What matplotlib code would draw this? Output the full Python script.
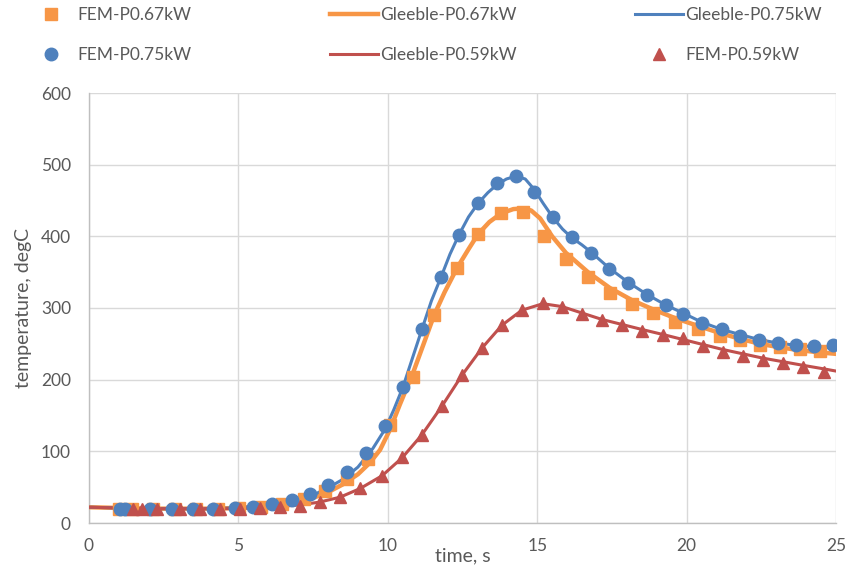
import numpy as np
import matplotlib
matplotlib.use('Agg')
import matplotlib.pyplot as plt
from matplotlib.pyplot import MultipleLocator

plt.rcParams['font.family'] = ['Lato', 'DejaVu Sans']

# FEM results (markers)
t_fem67 = [1.0, 1.45, 2.15, 2.87, 3.59, 4.31, 5.03, 5.75, 6.47, 7.19, 7.91, 8.63, 9.35,
           10.07, 10.84, 11.55, 12.32, 13.02, 13.79, 14.52, 15.23, 15.96, 16.70, 17.43,
           18.17, 18.88, 19.61, 20.38, 21.12, 21.79, 22.46, 23.13, 23.80, 24.46]
T_fem67 = [20, 20, 20, 20, 20, 20, 21, 23, 27, 33, 44, 62, 90,
           137, 204, 290, 356, 403, 433, 434, 400, 368, 343, 321,
           306, 293, 280, 271, 261, 255, 248, 246, 243, 240]

t_fem75 = [1.04, 1.2, 2.04, 2.78, 3.48, 4.15, 4.89, 5.49, 6.12, 6.79, 7.40, 8.00, 8.63, 9.27,
           9.91, 10.51, 11.14, 11.78, 12.38, 13.02, 13.65, 14.29, 14.89, 15.53, 16.16,
           16.80, 17.40, 18.04, 18.67, 19.31, 19.88, 20.52, 21.18, 21.79, 22.42, 23.06,
           23.66, 24.26, 24.90]
T_fem75 = [20, 20, 20, 20, 20, 20, 21, 22, 26, 32, 40, 53, 71, 98,
           135, 190, 271, 343, 402, 446, 474, 484, 462, 427, 399,
           377, 354, 335, 318, 304, 292, 279, 271, 261, 255, 251,
           248, 247, 248]

t_fem59 = [1.47, 1.77, 2.28, 3.05, 3.71, 4.38, 5.05, 5.72, 6.39, 7.06, 7.73, 8.40, 9.07,
           9.81, 10.48, 11.14, 11.81, 12.48, 13.15, 13.82, 14.49, 15.19, 15.83, 16.50,
           17.17, 17.84, 18.51, 19.21, 19.88, 20.55, 21.22, 21.89, 22.56, 23.23, 23.90, 24.60]
T_fem59 = [19, 19, 19, 19, 19, 19, 19, 21, 22, 24, 29, 36, 49,
           66, 92, 123, 163, 206, 244, 276, 297, 307, 301, 292,
           283, 276, 268, 262, 258, 247, 239, 233, 227, 223, 218, 211]

# Gleeble measurements (lines)
t_gl75 = [0, 1, 2, 3, 4, 5, 6, 7, 7.5, 8, 8.5, 9, 9.5, 9.91, 10.2, 10.51, 10.84, 11.14,
          11.46, 11.78, 12.08, 12.38, 12.7, 13.02, 13.35, 13.65, 13.97, 14.29, 14.6, 14.89,
          15.2, 15.53, 15.85, 16.16, 16.5, 16.8, 17.4, 18.04, 18.67, 19.31, 19.88, 20.52,
          21.18, 21.79, 22.42, 23.06, 23.66, 24.26, 25]
T_gl75 = [22, 21, 20, 20, 20, 21, 25, 32, 39, 49, 61, 78, 104, 131, 158, 190, 232, 270,
          310, 343, 375, 402, 427, 446, 461, 472, 480, 484, 480, 466,
          446, 426, 410, 398, 388, 378, 356, 336, 319, 304, 293, 280,
          270, 263, 256, 251, 248, 246, 244]

t_gl67 = [0, 1, 2, 3, 4, 5, 6, 7, 7.5, 8, 8.5, 9, 9.4, 9.74, 10.07, 10.4, 10.84, 11.2,
          11.55, 11.9, 12.32, 12.7, 13.02, 13.4, 13.79, 14.2, 14.52, 14.8, 15.1, 15.5,
          15.96, 16.7, 17.43, 18.17, 18.88, 19.61, 20.38, 21.12, 21.79, 22.46, 23.13, 23.8,
          24.46, 25]
T_gl67 = [22, 21, 20, 20, 20, 21, 24, 29, 35, 43, 54, 68, 84, 102, 130, 165, 209, 250,
          290, 322, 356, 382, 403, 420, 432, 438, 439, 436, 425, 400,
          377, 350, 328, 311, 298, 286, 275, 265, 257, 250, 245, 241,
          238, 236]

t_gl59 = [0, 2, 4, 5, 6, 7, 7.7, 8.4, 9.07, 9.81, 10.48, 11.14, 11.81, 12.48, 13.15, 13.82,
          14.49, 15.19, 15.83, 16.5, 17.17, 17.84, 18.51, 19.21, 19.88, 20.55, 21.22, 21.89,
          22.56, 23.23, 23.9, 24.6, 25]
T_gl59 = [22, 20, 20, 20, 22, 25, 29, 36, 48, 66, 91, 123, 163, 206, 244, 276,
          297, 306, 302, 293, 284, 277, 270, 263, 256, 249, 242, 236,
          230, 225, 220, 215, 212]

blue = '#4f81bd'
orange = '#f79646'
red = '#c0504d'
txt = '#595959'

fig = plt.figure(figsize=(8.56, 5.67), dpi=100)
ax = fig.add_axes([89/856, 44/567, 747/856, 430/567])

l_or, = ax.plot(t_gl67, T_gl67, color=orange, lw=3.2, label='Gleeble-P0.67kW', zorder=3)
l_bl, = ax.plot(t_gl75, T_gl75, color=blue, lw=2.2, label='Gleeble-P0.75kW', zorder=3)
l_rd, = ax.plot(t_gl59, T_gl59, color=red, lw=2.2, label='Gleeble-P0.59kW', zorder=3)
m_sq, = ax.plot(t_fem67, T_fem67, 's', color=orange, ms=8.5, label='FEM-P0.67kW', zorder=4)
m_ci, = ax.plot(t_fem75, T_fem75, 'o', color=blue, ms=9, label='FEM-P0.75kW', zorder=5)
m_tr, = ax.plot(t_fem59, T_fem59, '^', color=red, ms=9, label='FEM-P0.59kW', zorder=6)

ax.axis([0, 25, 0, 600])
ax.xaxis.set_major_locator(MultipleLocator(5))
ax.yaxis.set_major_locator(MultipleLocator(100))
ax.grid(True, color='#d9d9d9', lw=1.0)
ax.set_axisbelow(True)
for s in ['top', 'right']:
    ax.spines[s].set_visible(False)
for s in ['left', 'bottom']:
    ax.spines[s].set_color('#bfbfbf')
    ax.spines[s].set_linewidth(1.0)
ax.tick_params(length=0, labelsize=12.5, labelcolor=txt)
ax.tick_params(axis='y', pad=13)
ax.tick_params(axis='x', pad=11)

ax.set_xlabel('time, s', fontsize=14, color=txt)
ax.xaxis.set_label_coords(0.5, -0.057)
ax.set_ylabel('temperature, degC', fontsize=14, color=txt, va='center')
ax.yaxis.set_label_coords(-0.088, 0.5)

leg_kw = dict(loc='upper left', frameon=False, fontsize=12.5, labelcolor=txt,
              borderpad=0, borderaxespad=0, handlelength=2.75, handletextpad=0.15,
              labelspacing=1.4, numpoints=1)
top = 1 - 7/567
fig.legend([m_sq, m_ci], ['FEM-P0.67kW', 'FEM-P0.75kW'],
           bbox_to_anchor=(27/856, top), **leg_kw)
fig.legend([l_or, l_rd], ['Gleeble-P0.67kW', 'Gleeble-P0.59kW'],
           bbox_to_anchor=(330/856, top), **leg_kw)
fig.legend([l_bl, m_tr], ['Gleeble-P0.75kW', 'FEM-P0.59kW'],
           bbox_to_anchor=(635/856, top), **leg_kw)

fig.savefig('out.png', dpi=100)
